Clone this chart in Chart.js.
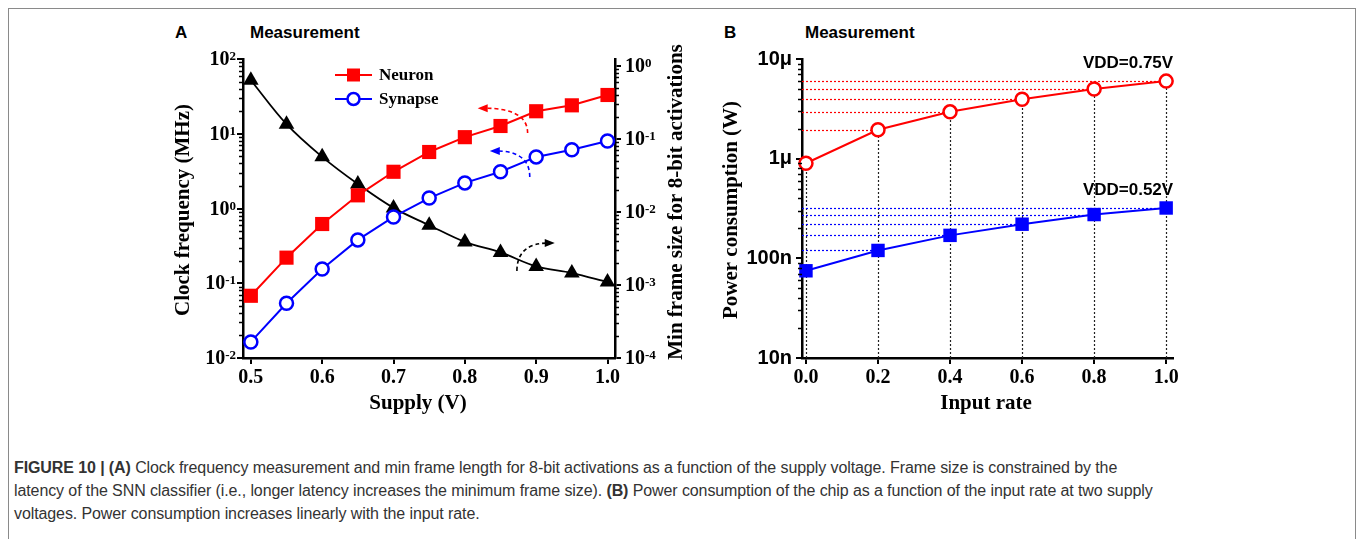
<!DOCTYPE html>
<html>
<head>
<meta charset="utf-8">
<script src="https://cdn.jsdelivr.net/npm/chart.js@4.4.1/dist/chart.umd.min.js"></script>
<style>
  body { margin: 0; width: 1360px; height: 539px; background: #fff; position: relative; overflow: hidden; }
  #frame { position: absolute; left: 8px; top: 8px; width: 1346px; height: 560px; border: 1px solid #8a8a8a; }
  .panel { position: absolute; }
  .tag { position: absolute; top: 23px; line-height: 20px; font: bold 17px "Liberation Sans", Arial, sans-serif; color: #000; }
  #caption { position: absolute; left: 14px; top: 456px; font: 16px "Liberation Sans", Arial, sans-serif; letter-spacing: -0.1px; color: #333; line-height: 23px; white-space: nowrap; }
</style>
</head>
<body>
<div id="frame"></div>
<div class="tag" style="left:175px">A</div>
<div class="tag" style="left:250px">Measurement</div>
<div class="tag" style="left:724px">B</div>
<div class="tag" style="left:805px">Measurement</div>
<canvas id="chartA" class="panel" width="540" height="400" style="left:165px; top:20px"></canvas>
<canvas id="chartB" class="panel" width="480" height="400" style="left:715px; top:20px"></canvas>
<div id="caption"><b>FIGURE 10 | (A)</b> Clock frequency measurement and min frame length for 8-bit activations as a function of the supply voltage. Frame size is constrained by the<br>latency of the SNN classifier (i.e., longer latency increases the minimum frame size). <b>(B)</b> Power consumption of the chip as a function of the input rate at two supply<br>voltages. Power consumption increases linearly with the input rate.</div>

<script>
// ---- panel A data ----
const supply = [0.5, 0.55, 0.6, 0.65, 0.7, 0.75, 0.8, 0.85, 0.9, 0.95, 1.0];
const neuronMHz = [0.068, 0.22, 0.62, 1.5, 3.1, 5.7, 9.0, 12.7, 20, 24, 33];
const synapseMHz = [0.0164, 0.054, 0.155, 0.38, 0.77, 1.38, 2.2, 3.1, 4.9, 6.1, 8.0];
const minFrame = [0.64, 0.16, 0.057, 0.0242, 0.0114, 0.0066, 0.0039, 0.0028, 0.0018, 0.00146, 0.0011];
const supplyTicks = [0.5, 0.6, 0.7, 0.8, 0.9, 1.0];
const freqTicks = [0.01, 0.1, 1, 10, 100];
const frameTicks = [0.0001, 0.001, 0.01, 0.1, 1];

// ---- panel B data ----
const inputRate = [0, 0.2, 0.4, 0.6, 0.8, 1.0];
const power075 = [0.90e-6, 1.95e-6, 2.95e-6, 3.95e-6, 5.0e-6, 6.0e-6];
const power052 = [75e-9, 120e-9, 170e-9, 220e-9, 275e-9, 320e-9];
const rateTicks = [0, 0.2, 0.4, 0.6, 0.8, 1.0];
const powerTicks = [1e-8, 1e-7, 1e-6, 1e-5];
const powerTickLabels = ['10n', '100n', '1μ', '10μ'];

const RED = '#ff0000', BLUE = '#0000ff';
const serif = '"Liberation Serif", "Times New Roman", serif';
const sans = '"Liberation Sans", Arial, sans-serif';

// short minor ticks at 2..9 x 10^n on log axes
const minorTicks = {
    id: 'minorTicks',
    afterDraw(chart, args, opts) {
        const ctx = chart.ctx;
        ctx.save();
        ctx.strokeStyle = '#000';
        ctx.lineWidth = 1.5;
        (opts.axes || []).forEach(id => {
            const s = chart.scales[id];
            const left = s.position === 'left';
            const x0 = left ? s.right : s.left;
            const dir = left ? -1 : 1;
            const lo = Math.floor(Math.log10(s.min)), hi = Math.ceil(Math.log10(s.max));
            for (let e = lo; e < hi; e++) {
                for (let m = 2; m <= 9; m++) {
                    const v = m * Math.pow(10, e);
                    if (v < s.min || v > s.max) continue;
                    const y = Math.round(s.getPixelForValue(v)) + 0.5;
                    ctx.beginPath();
                    ctx.moveTo(x0, y);
                    ctx.lineTo(x0 + dir * 4, y);
                    ctx.stroke();
                }
            }
        });
        ctx.restore();
    }
};

// 10^n labels with a real superscript (the built-in labels are kept transparent for layout)
const powLabels = {
    id: 'powLabels',
    afterDraw(chart, args, opts) {
        const ctx = chart.ctx;
        ctx.save();
        ctx.fillStyle = '#000';
        (opts.axes || []).forEach(id => {
            const s = chart.scales[id];
            const left = s.position === 'left';
            s.ticks.forEach(t => {
                const y = s.getPixelForValue(t.value);
                const exp = String(Math.round(Math.log10(t.value)));
                ctx.font = 'bold 20px ' + serif;
                const wBase = ctx.measureText('10').width;
                ctx.font = 'bold 13px ' + serif;
                const wExp = ctx.measureText(exp).width;
                const x = left ? s.right - 7 - wBase - wExp : s.left + 10;
                ctx.textAlign = 'left';
                ctx.font = 'bold 20px ' + serif;
                ctx.textBaseline = 'middle';
                ctx.fillText('10', x, y + 1);
                ctx.font = 'bold 13px ' + serif;
                ctx.textBaseline = 'alphabetic';
                ctx.fillText(exp, x + wBase, y + 1);
            });
        });
        ctx.restore();
    }
};

// axis titles drawn by hand (right one reads bottom to top)
const axisTitles = {
    id: 'axisTitles',
    afterDraw(chart, args, opts) {
        const ctx = chart.ctx;
        ctx.save();
        ctx.fillStyle = '#000';
        ctx.font = 'bold 21px ' + serif;
        ctx.textAlign = 'center';
        ctx.textBaseline = 'middle';
        (opts.items || []).forEach(t => {
            ctx.save();
            ctx.translate(t.x, t.y);
            if (t.rot) ctx.rotate(t.rot);
            ctx.fillText(t.text, 0, 0);
            ctx.restore();
        });
        ctx.restore();
    }
};

// legend inside panel A
const legendA = {
    id: 'legendA',
    afterDraw(chart) {
        const ctx = chart.ctx;
        const a = chart.chartArea;
        const x = a.left + 92;
        const rows = [
            { text: 'Neuron', color: RED, y: a.top + 16, square: true },
            { text: 'Synapse', color: BLUE, y: a.top + 40, square: false }
        ];
        ctx.save();
        rows.forEach(r => {
            ctx.strokeStyle = r.color;
            ctx.lineWidth = 2;
            ctx.beginPath();
            ctx.moveTo(x, r.y);
            ctx.lineTo(x + 37, r.y);
            ctx.stroke();
            if (r.square) {
                ctx.fillStyle = r.color;
                ctx.fillRect(x + 12, r.y - 6.5, 13, 13);
            } else {
                ctx.fillStyle = '#fff';
                ctx.lineWidth = 2.5;
                ctx.beginPath();
                ctx.arc(x + 18.5, r.y, 6, 0, Math.PI * 2);
                ctx.fill();
                ctx.stroke();
            }
            ctx.fillStyle = '#000';
            ctx.font = 'bold 17px ' + serif;
            ctx.textBaseline = 'middle';
            ctx.fillText(r.text, x + 44, r.y + 1);
        });
        ctx.restore();
    }
};

// dashed curved arrows pointing to the axis each curve belongs to
const arrowsA = {
    id: 'arrowsA',
    afterDatasetsDraw(chart, args, opts) {
        const { ctx, scales: { x, y } } = chart;
        ctx.save();
        (opts.arrows || []).forEach(a => {
            const p0 = [x.getPixelForValue(a.from[0]), y.getPixelForValue(a.from[1])];
            const p1 = [x.getPixelForValue(a.to[0]), y.getPixelForValue(a.to[1])];
            const dir = Math.sign(p1[0] - p0[0]);
            ctx.strokeStyle = a.color;
            ctx.fillStyle = a.color;
            ctx.lineWidth = 1.6;
            ctx.setLineDash([4, 3]);
            ctx.beginPath();
            ctx.moveTo(p0[0], p0[1]);
            ctx.quadraticCurveTo(p0[0], p1[1], p1[0] - dir * 6, p1[1]);
            ctx.stroke();
            ctx.setLineDash([]);
            ctx.beginPath();
            ctx.moveTo(p1[0], p1[1]);
            ctx.lineTo(p1[0] - dir * 10, p1[1] - 4);
            ctx.lineTo(p1[0] - dir * 10, p1[1] + 4);
            ctx.closePath();
            ctx.fill();
        });
        ctx.restore();
    }
};

// dotted guide lines and VDD labels in panel B
const guidesB = {
    id: 'guidesB',
    beforeDatasetsDraw(chart) {
        const { ctx, scales: { x, y } } = chart;
        ctx.save();
        ctx.lineWidth = 1.2;
        // vertical lines from the upper curve down to the axis
        ctx.strokeStyle = '#222';
        inputRate.forEach((r, i) => {
            const px = Math.round(x.getPixelForValue(r)) + 0.5;
            ctx.setLineDash([2, 2]);
            ctx.beginPath();
            ctx.moveTo(px, y.bottom);
            ctx.lineTo(px, y.getPixelForValue(power075[i]));
            ctx.stroke();
        });
        // horizontal lines from the y axis to each point, in the series colour
        [[power075, RED], [power052, BLUE]].forEach(([vals, col]) => {
            vals.forEach((v, i) => {
                const px = x.getPixelForValue(inputRate[i]);
                const py = Math.round(y.getPixelForValue(v)) + 0.5;
                ctx.strokeStyle = col;
                ctx.setLineDash([2, 2]);
                ctx.beginPath();
                ctx.moveTo(x.left, py);
                ctx.lineTo(px, py);
                ctx.stroke();
            });
        });
        ctx.restore();
    },
    afterDatasetsDraw(chart) {
        const { ctx, scales: { x, y } } = chart;
        ctx.save();
        ctx.fillStyle = '#000';
        ctx.font = 'bold 17px ' + sans;
        ctx.textAlign = 'right';
        ctx.textBaseline = 'bottom';
        chart.data.datasets.forEach(ds => {
            const n = ds.data.length - 1;
            const px = x.getPixelForValue(inputRate[n]);
            const py = y.getPixelForValue(ds.data[n]);
            ctx.fillText(ds.label, px + 7, py - 9);
        });
        ctx.restore();
    }
};

const axisBorder = { color: '#000', width: 2.5 };
const axisGrid = { drawOnChartArea: false, color: '#000', lineWidth: 2, tickLength: 6 };
const tickFont = { family: serif, size: 20, weight: 'bold' };
const hiddenLabels = { color: 'rgba(0,0,0,0)', font: tickFont, padding: 2, callback: v => '10' };

// ================= PANEL A =================
new Chart(document.getElementById('chartA'), {
    type: 'line',
    data: {
        labels: supply,
        datasets: [{
            label: 'Neuron',
            data: neuronMHz,
            yAxisID: 'y',
            borderColor: RED,
            backgroundColor: RED,
            borderWidth: 2,
            pointStyle: 'rect',
            pointRadius: 10,
            pointBorderWidth: 0,
            clip: false
        }, {
            label: 'Synapse',
            data: synapseMHz,
            yAxisID: 'y',
            borderColor: BLUE,
            backgroundColor: '#fff',
            borderWidth: 2,
            pointStyle: 'circle',
            pointRadius: 6.5,
            pointBorderWidth: 2.5,
            clip: false
        }, {
            label: 'Min frame size',
            data: minFrame,
            yAxisID: 'y2',
            borderColor: '#000',
            backgroundColor: '#000',
            borderWidth: 1.8,
            tension: 0.35,
            pointStyle: 'triangle',
            pointRadius: 9,
            pointBorderWidth: 0,
            clip: false
        }]
    },
    options: {
        responsive: false,
        animation: false,
        layout: { padding: { top: 39, left: 0, right: 0, bottom: 0 } },
        plugins: {
            legend: { display: false },
            tooltip: { enabled: false },
            minorTicks: { axes: ['y', 'y2'] },
            powLabels: { axes: ['y', 'y2'] },
            axisTitles: {
                items: [
                    { text: 'Clock frequency (MHz)', x: 19, y: 190, rot: -Math.PI / 2 },
                    { text: 'Min frame size for 8-bit activations', x: 512, y: 182, rot: -Math.PI / 2 },
                    { text: 'Supply (V)', x: 253, y: 384 }
                ]
            },
            arrowsA: {
                arrows: [
                    { from: [0.888, 10.2], to: [0.818, 22], color: RED },
                    { from: [0.891, 2.64], to: [0.835, 5.9], color: BLUE },
                    { from: [0.873, 0.146], to: [0.926, 0.345], color: '#000' }
                ]
            }
        },
        scales: {
            x: {
                type: 'linear',
                min: 0.489,
                max: 1.0105,
                afterBuildTicks: s => { s.ticks = supplyTicks.map(v => ({ value: v })); },
                afterFit: s => { s.height = 62; },
                border: axisBorder,
                grid: axisGrid,
                ticks: { color: '#000', font: tickFont, padding: 2, maxRotation: 0, autoSkip: false,
                         callback: v => v.toFixed(1) }
            },
            y: {
                type: 'logarithmic',
                position: 'left',
                min: 0.01,
                max: 100,
                afterBuildTicks: s => { s.ticks = freqTicks.map(v => ({ value: v })); },
                afterFit: s => { s.width = 78; },
                border: axisBorder,
                grid: axisGrid,
                ticks: hiddenLabels
            },
            y2: {
                type: 'logarithmic',
                position: 'right',
                min: 0.0001,
                max: 1.25,
                afterBuildTicks: s => { s.ticks = frameTicks.map(v => ({ value: v })); },
                afterFit: s => { s.width = 90; },
                border: axisBorder,
                grid: axisGrid,
                ticks: hiddenLabels
            }
        }
    },
    plugins: [minorTicks, powLabels, axisTitles, legendA, arrowsA]
});

// ================= PANEL B =================
new Chart(document.getElementById('chartB'), {
    type: 'line',
    data: {
        labels: inputRate,
        datasets: [{
            label: 'VDD=0.75V',
            data: power075,
            borderColor: RED,
            backgroundColor: '#fff',
            borderWidth: 2,
            pointStyle: 'circle',
            pointRadius: 6.5,
            pointBorderWidth: 2.5,
            clip: false
        }, {
            label: 'VDD=0.52V',
            data: power052,
            borderColor: BLUE,
            backgroundColor: BLUE,
            borderWidth: 2,
            pointStyle: 'rect',
            pointRadius: 9.5,
            pointBorderWidth: 0,
            clip: false
        }]
    },
    options: {
        responsive: false,
        animation: false,
        layout: { padding: { top: 39, left: 0, right: 22, bottom: 0 } },
        plugins: {
            legend: { display: false },
            tooltip: { enabled: false },
            minorTicks: { axes: ['y'] },
            axisTitles: {
                items: [
                    { text: 'Power consumption (W)', x: 17, y: 190, rot: -Math.PI / 2 },
                    { text: 'Input rate', x: 271, y: 384 }
                ]
            }
        },
        scales: {
            x: {
                type: 'linear',
                min: -0.011,
                max: 1.019,
                afterBuildTicks: s => { s.ticks = rateTicks.map(v => ({ value: v })); },
                afterFit: s => { s.height = 62; },
                border: axisBorder,
                grid: axisGrid,
                ticks: { color: '#000', font: tickFont, padding: 2, maxRotation: 0, autoSkip: false,
                         callback: v => v.toFixed(1) }
            },
            y: {
                type: 'logarithmic',
                position: 'left',
                min: 1e-8,
                max: 1e-5,
                afterBuildTicks: s => { s.ticks = powerTicks.map(v => ({ value: v })); },
                afterFit: s => { s.width = 87; },
                border: axisBorder,
                grid: axisGrid,
                ticks: { color: '#000', font: { family: sans, size: 20, weight: 'bold' }, padding: 4,
                         callback: v => powerTickLabels[powerTicks.findIndex(t => Math.abs(Math.log10(t) - Math.log10(v)) < 1e-6)] }
            }
        }
    },
    plugins: [minorTicks, axisTitles, guidesB]
});
</script>
</body>
</html>
